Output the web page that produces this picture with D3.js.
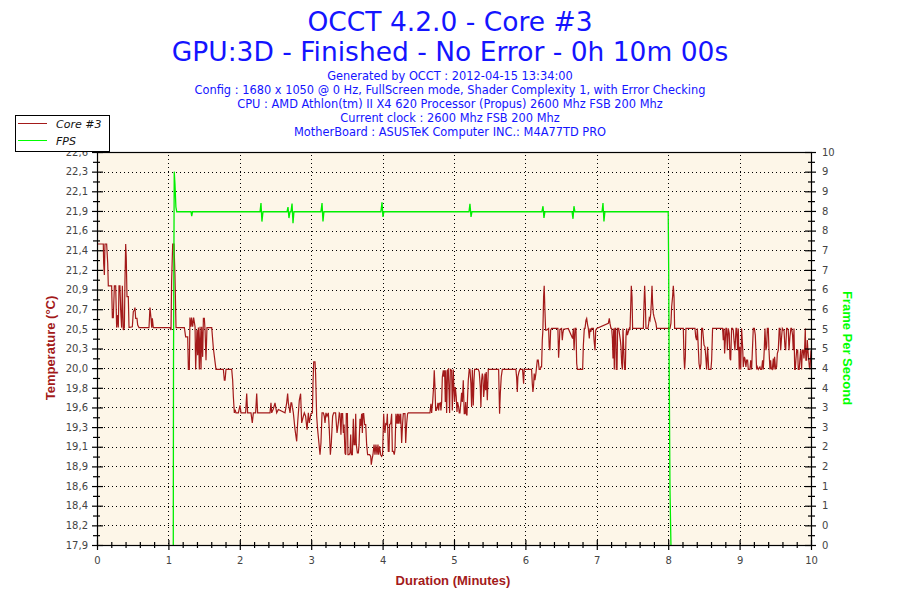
<!DOCTYPE html>
<html>
<head>
<meta charset="utf-8">
<script src="https://cdn.jsdelivr.net/npm/d3@7"></script>
<style>
body { margin: 0; background: #fff; }
</style>
</head>
<body>
<script>
var titleLines = ["OCCT 4.2.0 - Core #3", "GPU:3D - Finished - No Error - 0h 10m 00s"];
var infoLines = [
	"Generated by OCCT : 2012-04-15 13:34:00",
	"Config : 1680 x 1050 @ 0 Hz, FullScreen mode, Shader Complexity 1, with Error Checking",
	"CPU : AMD Athlon(tm) II X4 620 Processor (Propus) 2600 Mhz FSB 200 Mhz",
	"Current clock : 2600 Mhz FSB 200 Mhz",
	"MotherBoard : ASUSTeK Computer INC.: M4A77TD PRO"
];
var seriesNames = ["Core #3", "FPS"];

// tick labels as printed on the chart (bottom to top)
var tempTickLabels = ["17,9","18,2","18,4","18,6","18,9","19,1","19,3","19,6","19,8","20,0",
	"20,3","20,5","20,7","20,9","21,2","21,4","21,6","21,9","22,1","22,3","22,6"];
var fpsTickLabels = ["0","0","1","1","2","2","3","3","4","4","5","5","6","6","7","7","8","8","9","9","10"];
var minuteLabels = ["0","1","2","3","4","5","6","7","8","9","10"];

// [seconds, °C]
var coreTemp = [
	[0,21.5],[5.3,21.5],[5.6,21.27],[6.2,21.13],[6.7,21.5],[8.1,21.5],[9.0,21.27],[9.5,21.0],[12.3,21.0],
	[12.9,20.62],[13.7,20.62],[14.6,21.0],[15.7,21.0],[16.5,20.5],[17.4,20.65],[17.9,20.5],[18.5,21.0],
	[19.3,21.0],[19.9,20.71],[20.7,20.5],[21.3,21.0],[22.1,20.47],[23.0,20.5],[23.5,21.05],[24.1,21.5],
	[24.6,21.33],[25.2,20.87],[26.3,20.87],[26.9,20.5],[29.7,20.51],[30.5,20.69],[31.4,20.71],[31.9,20.74],
	[32.5,20.61],[33.6,20.61],[34.2,20.53],[35.3,20.5],[43.7,20.5],[44.5,20.74],[45.4,20.61],[46.0,20.5],
	[46.5,20.61],[47.3,20.5],[61.3,20.5],[62.2,20.47],[62.7,21.05],[63.6,21.5],[64.7,21.5],[65.5,21.13],
	[66.4,20.5],[73.4,20.5],[74.5,20.39],[76.2,20.39],[76.8,20.0],[77.6,20.0],[78.1,20.62],[79.0,20.51],
	[79.5,20.62],[80.4,20.51],[81.2,20.62],[82.4,20.51],[82.9,20.0],[84.0,20.47],[84.6,20.17],[85.2,20.5],
	[86.0,20.0],[86.6,20.51],[87.4,20.0],[88.0,20.51],[88.8,20.15],[89.4,20.61],[90.2,20.61],[90.8,20.47],
	[91.6,20.11],[92.4,20.5],[96.4,20.5],[97.8,20.25],[99.2,20.09],[100.0,20.0],[106.2,20.0],[107.0,19.87],
	[107.6,19.87],[108.4,20.0],[113.2,20.0],[114.0,19.87],[114.6,19.67],[115.4,19.48],[116.0,19.52],
	[116.8,19.48],[118.8,19.48],[120.2,19.57],[121.0,19.48],[124.9,19.48],[125.8,19.71],[126.6,19.48],
	[129.4,19.48],[130.5,19.36],[131.4,19.48],[133.3,19.48],[134.2,19.71],[135.0,19.48],[145.4,19.48],
	[146.2,19.6],[146.8,19.48],[148.2,19.53],[149.6,19.6],[151.0,19.48],[152.4,19.52],[158.0,19.48],
	[159.4,19.6],[160.2,19.71],[160.8,19.6],[162.2,19.48],[163.0,19.6],[163.6,19.6],[165.0,19.48],
	[166.4,19.28],[167.8,19.14],[168.6,19.36],[170.0,19.63],[171.1,19.71],[172.0,19.36],[173.4,19.44],
	[174.2,19.48],[175.3,19.44],[176.5,19.28],[177.6,19.48],[178.4,19.36],[179.8,19.47],[181.0,19.48],
	[181.5,19.83],[182.1,20.09],[183.2,20.09],[183.7,19.95],[184.6,19.44],[185.4,19.28],[186.5,19.12],
	[187.4,18.98],[188.2,19.12],[189.1,19.48],[190.2,19.48],[191.0,19.44],[191.6,19.36],[192.4,19.48],
	[193.3,19.44],[194.4,19.48],[195.2,19.28],[196.1,18.98],[196.9,19.12],[198.0,19.44],[198.9,19.48],
	[200.5,19.48],[201.7,19.24],[202.8,19.36],[203.6,19.48],
	[204.2,19.47],[205.0,19.22],[205.6,19.47],[206.4,19.47],[207.0,19.24],[207.6,19.34],[208.4,19.0],
	[209.0,18.98],[209.5,19.47],[210.4,19.47],[210.9,18.98],[211.8,18.98],[212.6,19.0],[213.2,19.22],
	[213.7,18.98],[214.6,18.98],[215.4,19.41],[216.0,19.1],[216.8,19.1],[217.4,19.47],[217.9,19.1],
	[218.8,19.0],[219.6,19.0],[220.2,19.1],[221.0,19.41],[221.6,19.32],[222.4,19.47],[223.0,19.24],
	[223.5,19.47],[224.1,19.47],[224.9,19.34],[225.8,19.34],[226.6,19.1],[227.4,18.98],[229.1,18.98],
	[230.0,18.96],[230.5,18.86],[231.1,18.92],[231.9,18.98],[232.8,19.1],[233.6,18.98],[234.4,19.1],
	[235.3,18.98],[236.1,19.1],[236.7,18.98],[237.5,19.08],[238.4,18.98],[239.2,18.96],[240.0,18.98],
	[240.9,19.47],[241.4,19.32],[242.0,19.24],[242.6,19.35],[243.4,19.34],[244.0,19.47],[244.8,19.02],
	[245.4,19.02],[245.9,19.34],[246.8,19.35],[247.6,19.47],[248.2,19.02],[249.0,19.02],[249.8,18.98],
	[250.4,19.04],[251.2,19.47],[252.1,19.35],[252.6,19.47],[253.2,19.35],[253.8,19.47],[254.6,19.35],
	[255.2,19.47],[256.0,19.12],[256.8,19.35],[257.4,19.47],[258.8,19.47],[259.4,19.12],[260.2,19.35],
	[261.0,19.47],[261.6,19.48],[279.8,19.48],[280.6,19.59],[281.2,19.48],[282.0,19.6],[282.9,19.8],
	[283.4,19.99],[284.0,19.8],[284.6,19.51],[285.1,19.51],[286.0,19.55],[286.5,19.6],[287.1,19.51],
	[287.6,19.59],[288.5,19.6],[289.0,19.51],[289.6,19.61],[290.2,19.91],[291.0,19.99],[291.6,19.91],
	[292.1,19.99],[292.7,19.61],[293.2,19.99],[293.8,19.48],[294.6,19.99],[295.2,20.0],[295.8,19.75],
	[296.3,19.48],[296.9,20.0],[298.0,19.99],[298.6,19.51],[299.4,20.0],[300.0,19.75],[300.5,19.61],
	[301.1,19.79],[301.9,19.67],[302.5,19.49],[303.0,19.61],[303.9,19.55],[304.4,19.48],[305.0,19.48],
	[305.8,19.61],[306.4,19.72],[307.0,19.61],[307.8,19.87],[308.6,19.47],[309.2,19.47],[309.8,19.61],
	[310.3,19.47],[310.9,19.45],[311.4,19.67],[312.0,19.87],[312.8,20.0],[313.4,20.0],[314.2,19.83],
	[314.8,19.55],[315.4,20.0],[316.2,19.57],[316.8,19.87],[317.3,20.0],[320.4,20.0],[321.2,19.97],
	[322.1,19.79],[322.6,19.55],[323.2,19.87],[323.8,19.95],[324.3,19.91],[324.9,19.67],[325.4,19.75],
	[326.0,19.95],[326.6,19.75],[327.1,19.97],[328.0,19.63],[328.8,20.0],[337.5,20.0],[338.3,19.47],
	[338.9,19.71],[339.7,19.91],[340.6,20.0],[352.0,20.0],[352.6,19.91],[353.2,19.73],[353.7,19.91],
	[354.6,19.97],[355.4,20.0],[357.6,20.0],[358.5,19.83],[359.0,20.0],[365.2,20.0],[365.8,19.83],
	[366.3,19.73],[366.9,19.81],[367.4,19.95],[368.0,19.87],[368.8,19.95],[369.4,20.03],[370.0,20.11],
	[370.8,20.11],[371.6,20.0],[372.5,20.0],[373.0,20.03],[373.6,20.03],[374.2,20.35],[374.7,20.47],
	[375.3,20.87],[375.8,21.0],[376.4,20.71],[377.0,20.47],[377.8,20.47],[379.5,20.49],[380.0,20.27],
	[380.6,20.23],[381.2,20.47],[382.0,20.49],[387.3,20.49],[387.9,20.14],[388.4,20.27],[389.0,20.48],
	[390.4,20.49],[391.0,20.35],[391.5,20.43],[392.1,20.48],[396.0,20.49],
	[399.7,20.37],[400.3,20.49],[400.9,20.23],[401.7,20.49],[402.5,20.49],[403.1,20.07],[403.7,20.0],
	[408.1,20.0],[408.7,20.29],[409.5,20.49],[410.1,20.49],[410.9,20.59],[411.5,20.61],[412.3,20.53],
	[412.9,20.49],[413.7,20.37],[414.3,20.49],[414.9,20.45],[415.7,20.49],[417.1,20.49],[417.7,20.35],
	[418.5,20.23],[419.1,20.47],[419.9,20.49],[429.7,20.55],[430.5,20.61],[431.1,20.55],[431.9,20.49],
	[432.5,20.49],[433.1,20.37],[433.6,20.13],[434.2,20.49],[434.7,20.0],[435.3,20.49],[435.9,20.49],
	[436.4,20.0],[437.0,20.0],[437.5,20.49],[438.4,20.49],[439.2,20.41],[439.8,20.35],[440.3,20.27],
	[440.9,20.07],[441.5,20.0],[442.0,20.49],[442.9,20.13],[443.4,20.0],[444.0,20.0],[444.5,20.39],
	[445.1,20.49],[445.7,20.41],[446.5,20.45],[447.3,20.49],[447.9,20.47],[448.5,20.75],[449.0,21.0],
	[449.6,20.87],[450.1,20.49],[459.1,20.49],[459.7,20.79],[460.2,21.0],[460.8,20.79],[461.3,20.49],
	[463.0,20.49],[463.6,20.55],[464.1,20.61],[464.7,20.59],[465.3,20.67],[465.8,20.79],[466.4,21.0],
	[466.9,20.79],[467.5,20.67],[468.1,20.63],[468.9,20.59],[469.7,20.55],[470.3,20.49],[481.5,20.49],
	[482.3,20.55],[482.9,20.75],[483.7,20.87],[484.3,21.0],[484.9,20.87],[485.4,20.49],[492.7,20.49],
	[493.3,20.13],[493.8,20.0],[494.4,20.15],[494.9,20.49],[502.5,20.49],[503.1,20.39],[503.9,20.35],
	[504.5,20.49],[505.0,20.35],[505.9,20.07],[506.7,20.0],[507.5,20.07],[508.1,20.49],[508.9,20.49],
	[509.5,20.39],[510.1,20.29],[510.9,20.27],[511.5,20.17],[512.3,20.0],[513.1,20.27],[514.0,20.0],
	[515.9,20.0],[516.5,20.11],[517.3,20.49],[525.7,20.49],[526.3,20.35],[526.9,20.49],[527.4,20.19],
	[528.0,20.35],[528.5,20.49],[529.1,20.49],[529.7,20.23],[530.5,20.49],[531.3,20.43],[531.9,20.13],
	[532.5,20.11],[533.3,20.49],[534.1,20.49],[534.7,20.47],[535.3,20.35],[536.1,20.23],[537.0,20.49],
	[537.5,20.49],[538.3,20.23],[538.9,20.49],[539.7,20.0],[540.3,20.27],[540.9,20.0],[541.7,20.49],
	[542.6,20.25],[543.1,20.03],[544.0,20.15],[544.5,20.13],[545.3,20.03],[545.9,20.11],[546.7,20.11],
	[547.3,20.0],[548.7,20.0],[549.3,20.11],[550.1,20.0],[551.5,20.49],[552.4,20.49],[553.2,20.41],
	[553.7,20.23],[554.3,20.0],[554.9,20.03],[555.7,20.0],[557.1,20.03],[557.7,20.0],[558.5,20.0],
	[559.3,20.11],[559.9,20.0],[560.7,20.23],[561.3,20.49],[562.1,20.23],[562.7,20.27],[563.3,20.49],
	[564.1,20.49],[564.7,20.23],[565.5,20.0],[566.1,20.11],[566.6,20.01],[567.5,20.0],[568.3,20.13],
	[568.9,20.0],[569.4,20.15],[570.3,20.0],[571.1,20.03],[571.7,20.19],[572.5,20.23],[573.3,20.49],
	[573.9,20.49],[574.5,20.23],[575.3,20.39],[575.9,20.49],[576.7,20.47],[577.3,20.47],[578.1,20.27],
	[578.7,20.23],[579.5,20.49],[580.1,20.49],[580.9,20.47],[581.5,20.23],[582.3,20.39],[583.1,20.49],
	[583.7,20.49],[584.5,20.41],[585.1,20.23],[585.7,20.49],[586.3,20.0],[586.8,20.0],[587.4,20.13],
	[588.0,20.23],[588.8,20.23],[589.3,20.0],[590.1,20.0],[590.7,20.13],[591.3,20.23],[592.1,20.0],
	[592.7,20.23],[593.5,20.23],[594.1,20.13],[594.6,20.23],[595.2,20.49],[595.7,20.11],[596.3,20.11],
	[596.9,20.35],[597.4,20.23],[598.0,20.13],[598.6,20.03],[599.1,20.0],[600,20.23]
];

// [seconds, frames per second]
var fpsData = [
	[64.1,0],[64.3,4.7],[64.9,9.5],[65.5,9.2],[66.3,8.6],[67.0,8.48],[79.0,8.48],[79.6,8.37],[80.3,8.48],
	[137.0,8.48],[137.8,8.7],[138.6,8.23],[139.5,8.48],[159.7,8.48],[160.5,8.6],[161.3,8.32],[162.2,8.48],
	[163.0,8.48],[163.9,8.69],[164.7,8.19],[165.5,8.48],[188.2,8.48],[189.1,8.7],[189.9,8.23],[190.7,8.48],
	[238.6,8.48],[239.5,8.72],[240.3,8.35],[241.1,8.48],[312.6,8.48],[313.4,8.68],[314.3,8.35],[315.1,8.48],
	[373.9,8.48],[374.8,8.62],[375.6,8.32],[376.4,8.48],[399.2,8.48],[400.0,8.3],[400.8,8.62],[401.6,8.48],
	[424.4,8.48],[425.2,8.7],[426.0,8.23],[426.8,8.48],[480.0,8.48],[480.4,7.05],[480.9,4.2],[481.5,1.4],
	[482.3,0]
];

var chartW = 900, chartH = 600;
var plotLeft = 97, plotRight = 811, plotTop = 152, plotBottom = 545;
var blue = "#1414ff", darkRed = "#a31a1a", green = "#00ee00";

var svg = d3.select("body").append("svg")
	.attr("width", chartW)
	.attr("height", chartH)
	.style("font-family", "'DejaVu Sans', Verdana, sans-serif");

var x = d3.scaleLinear().domain([0, 600]).range([plotLeft, plotRight]);
var yTemp = d3.scaleLinear().domain([17.9, 22.6]).range([plotBottom, plotTop]);
var yFps = d3.scaleLinear().domain([0, 10]).range([plotBottom, plotTop]);

var tempTicks = tempTickLabels.map(function(d, i) { return 17.9 + i * 4.7 / 20; });
var fpsTicks = fpsTickLabels.map(function(d, i) { return i * 0.5; });
var minuteTicks = minuteLabels.map(function(d, i) { return i * 60; });

// titles
svg.selectAll(".title").data(titleLines).enter().append("text")
	.attr("x", 450)
	.attr("y", function(d, i) { return 31 + i * 30; })
	.attr("text-anchor", "middle")
	.style("font-size", "26.5px")
	.style("fill", blue)
	.text(function(d) { return d; });

svg.selectAll(".info").data(infoLines).enter().append("text")
	.attr("x", 450)
	.attr("y", function(d, i) { return 80 + i * 13.9; })
	.attr("text-anchor", "middle")
	.style("font-size", "11.4px")
	.style("fill", blue)
	.text(function(d) { return d; });

// plot background
svg.append("rect")
	.attr("x", plotLeft).attr("y", plotTop)
	.attr("width", plotRight - plotLeft).attr("height", plotBottom - plotTop)
	.style("fill", "#fdf6e8");

// dotted grid
var grid = svg.append("g")
	.style("stroke", "#000")
	.style("stroke-dasharray", "1,3")
	.style("shape-rendering", "crispEdges");
grid.selectAll(".h").data(tempTicks.slice(1, -1)).enter().append("line")
	.attr("x1", plotLeft + 3).attr("x2", plotRight)
	.attr("y1", function(d) { return Math.round(yTemp(d)) + 0.5; })
	.attr("y2", function(d) { return Math.round(yTemp(d)) + 0.5; });
grid.selectAll(".v").data(minuteTicks.slice(1, -1)).enter().append("line")
	.attr("y1", plotTop + 3).attr("y2", plotBottom)
	.attr("x1", function(d) { return Math.round(x(d)) + 0.5; })
	.attr("x2", function(d) { return Math.round(x(d)) + 0.5; });

// series
var tempLine = d3.line()
	.x(function(d) { return x(d[0]); })
	.y(function(d) { return yTemp(d[1]); });
var fpsLine = d3.line()
	.x(function(d) { return x(d[0]); })
	.y(function(d) { return yFps(d[1]); });

svg.append("path").datum(coreTemp)
	.attr("d", tempLine)
	.style("fill", "none").style("stroke", darkRed).style("stroke-width", 1.2);
svg.append("path").datum(fpsData)
	.attr("d", fpsLine)
	.style("fill", "none").style("stroke", green).style("stroke-width", 1.3);

// frame
svg.append("rect")
	.attr("x", plotLeft + 0.5).attr("y", plotTop + 0.5)
	.attr("width", plotRight - plotLeft).attr("height", plotBottom - plotTop)
	.style("fill", "none").style("stroke", "#000").style("stroke-width", 1.2);

function styleAxis(g) {
	g.select(".domain").remove();
	g.selectAll("line").style("stroke", "#000").style("stroke-width", 1.2);
	g.selectAll("text").style("font-size", "10px").style("fill", "#444")
		.style("font-family", "'DejaVu Sans', Verdana, sans-serif");
}

// left axis
var leftAxis = svg.append("g").attr("transform", "translate(" + plotLeft + ",0)")
	.call(d3.axisLeft(yTemp).tickValues(tempTicks).tickSize(5).tickPadding(4)
		.tickFormat(function(d, i) { return tempTickLabels[i]; }));
leftAxis.selectAll(".tick line").attr("x1", 6);
styleAxis(leftAxis);
var leftMinor = svg.append("g").attr("transform", "translate(" + plotLeft + ",0)")
	.call(d3.axisLeft(yTemp).tickValues(tempTicks.slice(1).map(function(d) { return d - 4.7 / 40; }))
		.tickSize(4).tickFormat(""));
leftMinor.selectAll(".tick line").attr("x1", 3);
styleAxis(leftMinor);

// right axis
var rightAxis = svg.append("g").attr("transform", "translate(" + plotRight + ",0)")
	.call(d3.axisRight(yFps).tickValues(fpsTicks).tickSize(5).tickPadding(6)
		.tickFormat(function(d, i) { return fpsTickLabels[i]; }));
rightAxis.selectAll(".tick line").attr("x1", -6);
styleAxis(rightAxis);
var rightMinor = svg.append("g").attr("transform", "translate(" + plotRight + ",0)")
	.call(d3.axisRight(yFps).tickValues(fpsTicks.slice(1).map(function(d) { return d - 0.25; }))
		.tickSize(4).tickFormat(""));
rightMinor.selectAll(".tick line").attr("x1", -3);
styleAxis(rightMinor);

// bottom axis
var bottomAxis = svg.append("g").attr("transform", "translate(0," + plotBottom + ")")
	.call(d3.axisBottom(x).tickValues(minuteTicks).tickSize(5).tickPadding(7)
		.tickFormat(function(d, i) { return minuteLabels[i]; }));
bottomAxis.selectAll(".tick line").attr("y1", -5);
styleAxis(bottomAxis);
var bottomMinor = svg.append("g").attr("transform", "translate(0," + plotBottom + ")")
	.call(d3.axisBottom(x).tickValues(d3.range(0, 601, 12).filter(function(d) { return d % 60 !== 0; }))
		.tickSize(3).tickFormat(""));
bottomMinor.selectAll(".tick line").attr("y1", -3);
styleAxis(bottomMinor);

// axis titles
var titleFont = "'Liberation Sans', Arial, sans-serif";
svg.append("text")
	.attr("transform", "translate(55,348) rotate(-90)")
	.attr("text-anchor", "middle")
	.style("font-family", titleFont).style("font-weight", "bold").style("font-size", "13px")
	.style("fill", darkRed)
	.text("Temperature (°C)");
svg.append("text")
	.attr("transform", "translate(843,348) rotate(90)")
	.attr("text-anchor", "middle")
	.style("font-family", titleFont).style("font-weight", "bold").style("font-size", "13px")
	.style("fill", "#00ff00")
	.text("Frame Per Second");
svg.append("text")
	.attr("x", 453).attr("y", 585)
	.attr("text-anchor", "middle")
	.style("font-family", titleFont).style("font-weight", "bold").style("font-size", "13px")
	.style("fill", darkRed)
	.text("Duration (Minutes)");

// legend
var legend = svg.append("g");
legend.append("rect")
	.attr("x", 15.5).attr("y", 115.5).attr("width", 94).attr("height", 36)
	.style("fill", "#fff").style("stroke", "#000");
var legendColors = [darkRed, "#00ff00"];
legend.selectAll(".item").data(seriesNames).enter().append("line")
	.attr("x1", 18).attr("x2", 47)
	.attr("y1", function(d, i) { return 123.5 + i * 17; })
	.attr("y2", function(d, i) { return 123.5 + i * 17; })
	.style("stroke", function(d, i) { return legendColors[i]; });
legend.selectAll(".label").data(seriesNames).enter().append("text")
	.attr("x", 56)
	.attr("y", function(d, i) { return 127.5 + i * 17; })
	.style("font-size", "11px").style("font-style", "italic").style("fill", "#111")
	.text(function(d) { return d; });
</script>
</body>
</html>
